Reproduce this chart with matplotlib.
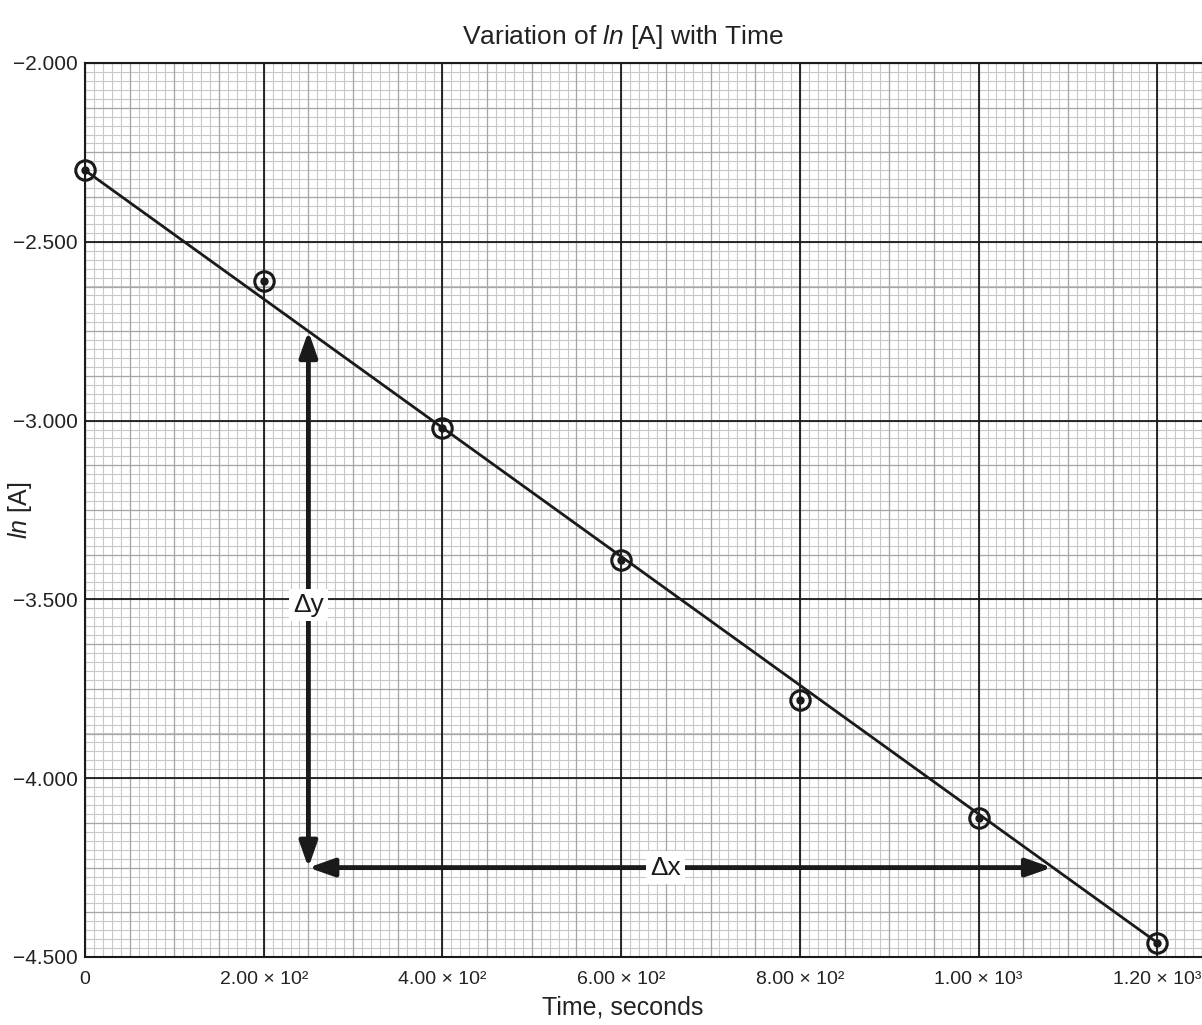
import matplotlib
matplotlib.use('Agg')
import matplotlib.pyplot as plt
import numpy as np
from matplotlib.ticker import FixedLocator

# ---- data ----
time_s = [0, 200, 400, 600, 800, 1000, 1200]
ln_A = [-2.30, -2.61, -3.02, -3.39, -3.78, -4.11, -4.46]

x_ticks = [0, 200, 400, 600, 800, 1000, 1200]
x_tick_labels = ['0', '2.00 × 10²', '4.00 × 10²', '6.00 × 10²',
                 '8.00 × 10²', '1.00 × 10³', '1.20 × 10³']
y_ticks = [-2.0, -2.5, -3.0, -3.5, -4.0, -4.5]
y_tick_labels = ['−2.000', '−2.500', '−3.000', '−3.500', '−4.000', '−4.500']

# slope triangle
dy_x = 250
dy_top = -2.75
dy_bottom = -4.25
dx_right = 1082
dy_label_y = -3.515
dx_label_x = 650

plt.rcParams['font.family'] = ['Liberation Sans', 'DejaVu Sans']
plt.rcParams['mathtext.fontset'] = 'custom'
plt.rcParams['mathtext.rm'] = 'Liberation Sans'
plt.rcParams['mathtext.it'] = 'Liberation Sans:italic'

fig = plt.figure(figsize=(12.02, 10.25), dpi=100)
ax = fig.add_axes([85/1202, 68/1025, 1 - 85/1202, (962-68)/1025])

ax.set_xlim(0, 1250)
ax.set_ylim(-4.5, -2.0)

ax.xaxis.set_major_locator(FixedLocator(x_ticks))
ax.yaxis.set_major_locator(FixedLocator(y_ticks))

# graph-paper grid: minor (light), medium (every 5 minor), major (dark)
ax.vlines(np.arange(0, 1251, 10), -4.5, -2.0, colors='#c8c8c8', lw=0.8, zorder=0.2)
ax.hlines(np.arange(-4.5, -1.99, 0.025), 0, 1250, colors='#c8c8c8', lw=0.8, zorder=0.2)
ax.vlines(np.arange(0, 1251, 50), -4.5, -2.0, colors='#a6a6a6', lw=0.9, zorder=0.5)
ax.hlines(np.arange(-4.5, -1.99, 0.125), 0, 1250, colors='#a6a6a6', lw=0.9, zorder=0.5)
ax.vlines(x_ticks, -4.5, -2.0, colors='#1a1a1a', lw=1.3, zorder=1)
ax.hlines(y_ticks, 0, 1250, colors='#1a1a1a', lw=1.3, zorder=1)

ax.tick_params(which='both', length=0)
ax.set_xticklabels(x_tick_labels, fontsize=14,
                   family=['Liberation Sans Narrow', 'Liberation Sans', 'DejaVu Sans'],
                   color='#222222')
ax.set_yticklabels(y_tick_labels, fontsize=15, color='#222222')
ax.tick_params(axis='x', pad=10)
ax.tick_params(axis='y', pad=5)

for s in ['left', 'bottom', 'top']:
    ax.spines[s].set_color('#1a1a1a')
    ax.spines[s].set_linewidth(1.5)
ax.spines['right'].set_visible(False)

# fitted line through first and last points
ax.plot([time_s[0], time_s[-1]], [ln_A[0], ln_A[-1]], color='#1a1a1a', lw=2, zorder=3)
# data points: open circle with dot
ax.plot(time_s, ln_A, 'o', ms=14, mfc='none', mec='#1a1a1a', mew=2.2, zorder=4, clip_on=False)
ax.plot(time_s, ln_A, 'o', ms=5, color='#1a1a1a', zorder=5, clip_on=False)

# slope arrows
arrow_style = dict(arrowstyle='<|-|>,head_length=0.85,head_width=0.3', lw=3.5,
                   color='#1a1a1a', shrinkA=0, shrinkB=0, mutation_scale=18)
ax.annotate('', xy=(dy_x, dy_top), xytext=(dy_x, dy_bottom), arrowprops=arrow_style, zorder=6)
ax.annotate('', xy=(dx_right, dy_bottom), xytext=(dy_x, dy_bottom), arrowprops=arrow_style, zorder=6)

ax.text(dy_x, dy_label_y, 'Δy', fontsize=19, ha='center', va='center', color='#1a1a1a',
        bbox=dict(facecolor='white', edgecolor='none', pad=3), zorder=7)
ax.text(dx_label_x, dy_bottom, 'Δx', fontsize=19, ha='center', va='center', color='#1a1a1a',
        bbox=dict(facecolor='white', edgecolor='none', pad=3), zorder=7)

fig.text(623/1202, 1 - 37/1025, r'Variation of $\mathit{ln}$ [A] with Time',
         ha='center', va='center', fontsize=19, color='#222222')
fig.text(623/1202, 1 - 1008/1025, 'Time, seconds', ha='center', va='center',
         fontsize=18, color='#222222')
fig.text(20/1202, 1 - 510/1025, r'$\mathit{ln}$ [A]', ha='center', va='center',
         rotation=90, fontsize=18, color='#222222')

fig.savefig('out.png', dpi=100)
